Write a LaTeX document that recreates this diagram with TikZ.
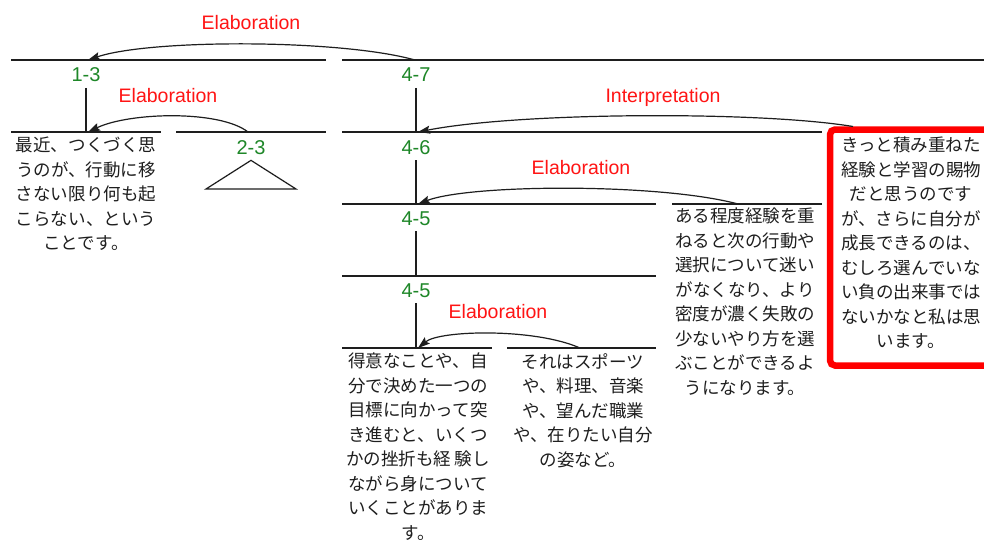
\documentclass[tikz,border=0pt]{standalone}
\usepackage{fontspec}
\setmainfont{Liberation Sans}
\newfontfamily\jp{Noto Sans CJK JP}
\usetikzlibrary{arrows.meta}
\definecolor{lblgreen}{RGB}{30,135,40}
\definecolor{relred}{RGB}{255,20,20}
\definecolor{ink}{RGB}{30,30,30}
\tikzset{
  seg/.style={draw=ink, line width=1.2pt},
  rellabel/.style={text=relred, font=\fontsize{19.5}{22}\selectfont, text height=14pt, text depth=0pt, inner sep=0pt},
  spanlabel/.style={text=lblgreen, font=\fontsize{20}{22}\selectfont, text height=14.3pt, text depth=0pt, inner xsep=0pt, inner ysep=6pt},
  jtext/.style={font=\jp\fontsize{17.5}{24.5}\selectfont, text=ink, align=center, inner sep=0pt, anchor=north},
  relarrow/.style={draw=ink, line width=1.2pt, -{Stealth[length=12pt,width=8pt,inset=2pt]}},
}
\begin{document}
\begin{tikzpicture}[x=1pt,y=-1pt]
\useasboundingbox[fill=white] (0,0) rectangle (984,539);

% horizontal segments
\draw[seg] (11,60) -- (326,60);
\draw[seg] (342,60) -- (995,60);
\draw[seg] (11,132) -- (161,132);
\draw[seg] (176,132) -- (326,132);
\draw[seg] (342,132) -- (822,132);
\draw[seg] (342,204) -- (656,204);
\draw[seg] (672,204) -- (822,204);
\draw[seg] (342,276) -- (656,276);
\draw[seg] (342,348) -- (492,348);
\draw[seg] (507,348) -- (656,348);

% anchor coordinates on the lines
\coordinate (r13) at (88,60);
\coordinate (r47) at (415,60);
\coordinate (b13) at (86,132);
\coordinate (a13) at (88,132);
\coordinate (src23) at (248,132);
\coordinate (b47) at (416,132);
\coordinate (a47) at (418,132);
\coordinate (b46) at (416,204);
\coordinate (a46) at (418,204);
\coordinate (srcC) at (738,204);
\coordinate (b45a) at (416,276);
\coordinate (b45b) at (416,348);
\coordinate (a45b) at (418,348);
\coordinate (srcE) at (580,348);
\coordinate (srcI) at (853,126.5);

% span labels
\node[spanlabel] (l13) at (86,74.5) {1-3};
\node[spanlabel] (l47) at (416,74.5) {4-7};
\node[spanlabel] (l23) at (251,147) {2-3};
\node[spanlabel] (l46) at (416,147) {4-6};
\node[spanlabel] (l45a) at (416,218) {4-5};
\node[spanlabel] (l45b) at (416,290) {4-5};

% verticals
\draw[seg] (l13.south) -- (b13);
\draw[seg] (l47.south) -- (b47);
\draw[seg] (l46.south) -- (b46);
\draw[seg] (l45a.south) -- (b45a);
\draw[seg] (l45b.south) -- (b45b);
\draw[seg] (l23.south) -- (206,189) -- (296,189) -- cycle;

% relation labels
\node[rellabel] (e1) at (251,22.5) {Elaboration};
\node[rellabel] (e2) at (168,95) {Elaboration};
\node[rellabel] (ip) at (663,95) {Interpretation};
\node[rellabel] (e3) at (581,167) {Elaboration};
\node[rellabel] (e4) at (498,311) {Elaboration};

% red box
\node[draw=red, line width=6.5pt, rounded corners=5pt, minimum width=160pt, minimum height=236pt, inner sep=0pt] (box) at (910,247.5) {};

% texts
\node[jtext] (tA) at (86,137) {最近、つくづく思\\うのが、行動に移\\さない限り何も起\\こらない、という\\ことです。};
\node[jtext] (tB) at (911,137) {きっと積み重ねた\\経験と学習の賜物\\だと思うのです\\が、さらに自分が\\成長できるのは、\\むしろ選んでいな\\い負の出来事では\\ないかなと私は思\\います。};
\node[jtext] (tC) at (745,208) {ある程度経験を重\\ねると次の行動や\\選択について迷い\\がなくなり、より\\密度が濃く失敗の\\少ないやり方を選\\ぶことができるよ\\うになります。};
\node[jtext] (tD) at (418,353) {得意なことや、自\\分で決めた一つの\\目標に向かって突\\き進むと、いくつ\\かの挫折も経 験し\\ながら身について\\いくことがありま\\す。};
\node[jtext] (tE) at (583,353) {それはスポーツ\\や、料理、音楽\\や、望んだ職業\\や、在りたい自分\\の姿など。};

% relation arrows
\draw[relarrow] (r47) .. controls (340,39) and (150,39) .. (r13);
\draw[relarrow] (src23) .. controls (220,110) and (130,112) .. (a13);
\draw[relarrow] (srcI) .. controls (760,111) and (520,112) .. (a47);
\draw[relarrow] (srcC) .. controls (660,183) and (470,184) .. (a46);
\draw[relarrow] (srcE) .. controls (535,328) and (440,330) .. (a45b);
\end{tikzpicture}
\end{document}
